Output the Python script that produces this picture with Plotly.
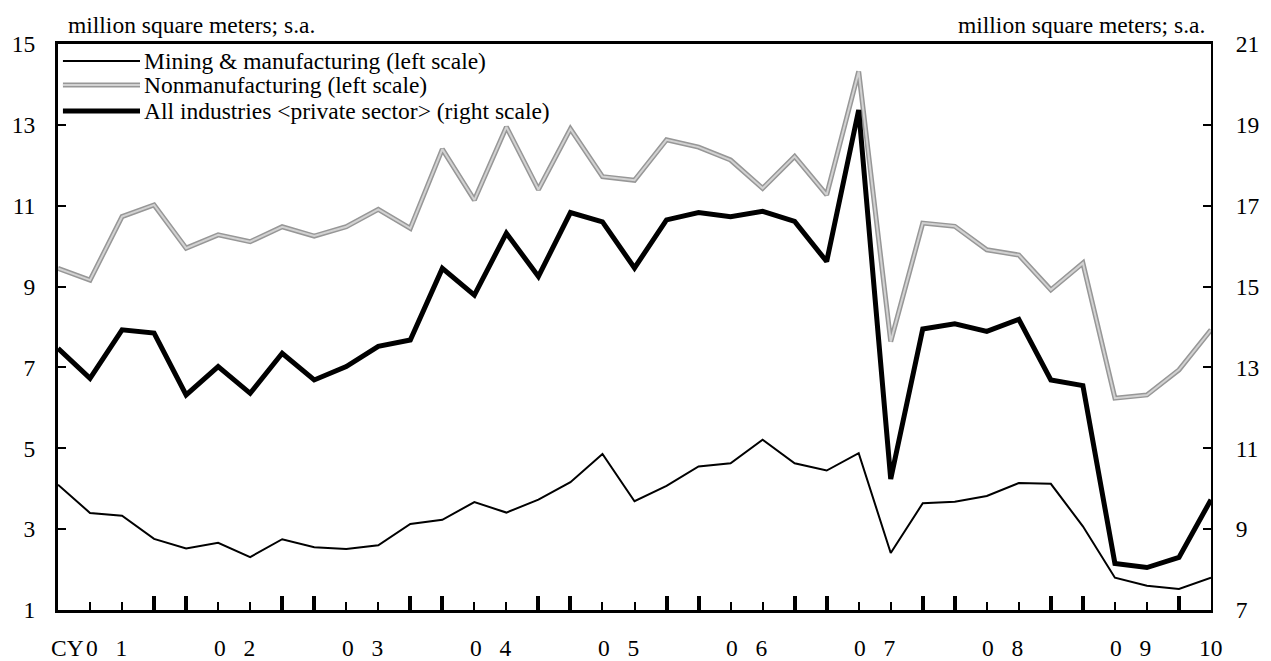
import plotly.graph_objects as go

# Quarterly, CY2001 Q1 .. CY2010 Q1
quarters = [f"{y}Q{q}" for y in range(2001, 2010) for q in range(1, 5)] + ["2010Q1"]

mining = [4.10, 3.40, 3.33, 2.76, 2.52, 2.66, 2.31, 2.75, 2.55, 2.51, 2.60, 3.13,
          3.23, 3.67, 3.41, 3.73, 4.16, 4.86, 3.69, 4.07, 4.55, 4.63, 5.21, 4.63,
          4.45, 4.88, 2.41, 3.64, 3.68, 3.82, 4.14, 4.12, 3.07, 1.80, 1.60, 1.52, 1.80]

nonmanuf = [9.45, 9.16, 10.73, 11.02, 9.95, 10.28, 10.11, 10.48, 10.25, 10.48, 10.91, 10.44,
            12.40, 11.14, 12.95, 11.40, 12.90, 11.72, 11.63, 12.63, 12.45, 12.13, 11.43, 12.22,
            11.27, 14.32, 7.64, 10.57, 10.49, 9.91, 9.78, 8.92, 9.58, 6.24, 6.32, 6.94, 7.93]

all_ind = [13.47, 12.73, 13.93, 13.85, 12.32, 13.02, 12.36, 13.35, 12.69, 13.02, 13.52, 13.68,
           15.45, 14.79, 16.32, 15.25, 16.83, 16.60, 15.46, 16.65, 16.83, 16.73, 16.86, 16.61,
           15.62, 19.37, 10.24, 13.95, 14.08, 13.89, 14.19, 12.69, 12.55, 8.15, 8.05, 8.30, 9.73]

year_labels = ["0\u2002 1", "0\u2002 2", "0\u2002 3", "0\u2002 4", "0\u2002 5",
               "0\u2002 6", "0\u2002 7", "0\u2002 8", "0\u2002 9", "10"]
left_ticks = [1, 3, 5, 7, 9, 11, 13, 15]
right_ticks = [7, 9, 11, 13, 15, 17, 19, 21]
legend_names = ["Mining & manufacturing (left scale)",
                "Nonmanufacturing (left scale)",
                "All industries <private sector> (right scale)"]
unit_text = "million square meters; s.a."

FONT = "Liberation Serif, Times New Roman, serif"
FS = 23.5
n = len(quarters)
xs = list(range(n))

W, H = 1271, 661
ML, MR, MT, MB = 57, 47, 44, 51

fig = go.Figure()
fig.add_trace(go.Scatter(x=xs, y=nonmanuf, mode="lines", line=dict(color="#979797", width=5),
                         showlegend=False, hoverinfo="skip"))
fig.add_trace(go.Scatter(x=xs, y=nonmanuf, mode="lines", line=dict(color="#d2d2d2", width=2),
                         showlegend=False, text=quarters, name=legend_names[1]))
fig.add_trace(go.Scatter(x=xs, y=mining, mode="lines", line=dict(color="black", width=2),
                         showlegend=False, text=quarters, name=legend_names[0]))
fig.add_trace(go.Scatter(x=xs, y=all_ind, mode="lines", line=dict(color="black", width=5),
                         yaxis="y2", showlegend=False, text=quarters, name=legend_names[2]))

major = [k for k in xs if k % 4 in (0, 3)]
minor = [k for k in xs if k % 4 in (1, 2)]

fig.update_layout(
    width=W, height=H,
    margin=dict(l=ML, r=MR, t=MT, b=MB),
    paper_bgcolor="white", plot_bgcolor="white",
    font=dict(family=FONT, size=FS, color="black"),
    xaxis=dict(range=[0, n - 1], showgrid=False, zeroline=False,
               showline=True, linecolor="black", linewidth=3, mirror=True,
               tickmode="array", tickvals=major, ticktext=["" for _ in major],
               ticks="inside", ticklen=14, tickwidth=4, tickcolor="black",
               minor=dict(tickmode="array", tickvals=minor, ticks="inside",
                          ticklen=8, tickwidth=2, tickcolor="black")),
    yaxis=dict(range=[1, 15], tickvals=left_ticks, showgrid=False, zeroline=False,
               showline=True, linecolor="black", linewidth=3,
               ticks="inside", ticklen=8, tickwidth=2, tickcolor="black",
               ticklabelstandoff=15, tickfont=dict(size=FS)),
    yaxis2=dict(range=[7, 21], tickvals=right_ticks, overlaying="y", side="right",
                showgrid=False, zeroline=False,
                showline=True, linecolor="black", linewidth=2,
                ticks="inside", ticklen=8, tickwidth=2, tickcolor="black",
                ticklabelstandoff=18, tickfont=dict(size=FS)),
)

for i, lab in enumerate(year_labels):
    xc = min(4 * i + 1.5, n - 1)
    fig.add_annotation(x=xc, y=0, xref="x", yref="paper", yshift=-38, text=lab,
                       showarrow=False, xanchor="center", yanchor="middle",
                       borderpad=0, font=dict(size=FS))
fig.add_annotation(x=1.5, y=0, xref="x", yref="paper", yshift=-38, xshift=-21, text="CY",
                   showarrow=False, xanchor="right", yanchor="middle",
                   borderpad=0, font=dict(size=FS))

fig.add_annotation(x=0, y=1, xref="paper", yref="paper", xshift=8, yshift=19, text=unit_text,
                   showarrow=False, xanchor="left", yanchor="middle", font=dict(size=FS))
fig.add_annotation(x=1, y=1, xref="paper", yref="paper", xshift=-4, yshift=19, text=unit_text,
                   showarrow=False, xanchor="right", yanchor="middle", font=dict(size=FS))

pw = W - ML - MR
ph = H - MT - MB
def px(xp): return xp / pw
def py(yp): return 1 - yp / ph
rows = [17, 41, 67]
styles = [[("black", 2)], [("#979797", 5), ("#d2d2d2", 2)], [("black", 5)]]
for r, sty, name in zip(rows, styles, legend_names):
    for col, w in sty:
        fig.add_shape(type="line", xref="paper", yref="paper",
                      x0=px(5), x1=px(83), y0=py(r), y1=py(r),
                      line=dict(color=col, width=w))
    fig.add_annotation(x=px(85), y=py(r), xref="paper", yref="paper", text=name,
                       showarrow=False, xanchor="left", yanchor="middle", font=dict(size=FS))

fig.write_html("out.html", config={"displayModeBar": False},
               post_script="document.body.style.margin='0';document.body.style.overflow='hidden';")
